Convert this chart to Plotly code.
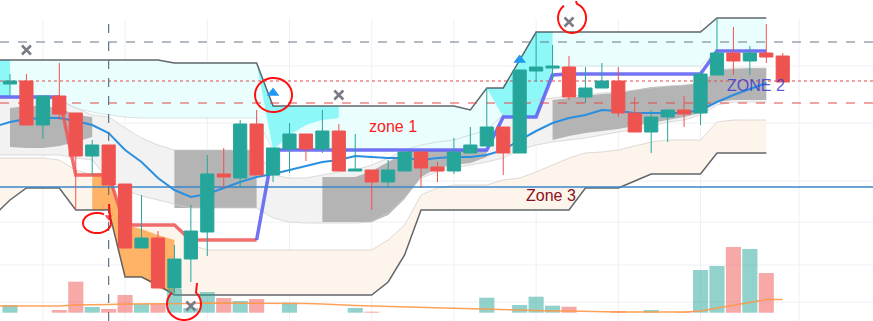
import plotly.graph_objects as go
import math

# ---------------- data (price units) ----------------
candle_idx = list(range(48))
opens  = [237,240,196,225,208,165,176,137,73,83,33,62,89,147,143,197,146,172,187,172,190,150,151,139,150,169,154,150,168,175,194,168,250,253,254,224,233,240,208,189,204,211,208,246,268,260,268,265]
highs  = [247,247,225,258,208,181,176,137,126,90,76,116,166,173,201,211,173,198,187,211,197,187,151,161,169,169,159,183,194,233,194,251,289,276,265,254,258,254,224,211,211,225,250,303,294,275,297,268]
lows   = [224,196,182,201,111,146,136,73,73,33,28,39,65,133,133,146,139,148,160,168,150,150,111,133,150,133,139,147,168,175,146,168,239,241,221,218,233,204,189,168,179,194,196,246,246,246,258,239]
closes = [240,196,225,207,165,176,136,73,83,33,62,90,147,144,197,146,173,187,172,190,150,152,139,151,169,153,150,169,176,194,168,251,254,255,224,233,240,208,189,204,211,207,247,268,260,268,264,239]
volume = [77,0,0,27,310,57,37,177,87,87,237,47,207,147,117,137,0,100,0,0,0,47,10,0,0,0,0,0,0,150,0,77,160,70,60,0,0,17,0,27,0,10,427,467,657,637,397,0]
volume_ma = [67,67,67,67,77,77,82,87,87,87,92,92,97,97,97,97,97,92,92,87,77,72,67,62,57,52,47,42,37,32,27,27,22,17,17,12,7,7,7,7,7,7,17,47,77,107,132,132]

band_idx = list(range(-1, 47))
N = None
upper_line = [261]*11 + [258]*6 + [215]*12 + [211, 233, 233, 261] + [289]*11 + [303]*4
cyan_low   = [224]*4 + [221, 213, 209, 206, 204] + [203]*8 + [171]*13 + [171] + [204]*3 + [251] + [255]*9 + [270]*4
sat_up  = [261, 261] + [N]*14 + [258] + [215]*5 + [N]*8 + [233, 233, 261, 289, 289] + [N]*13
sat_low = [224, 224] + [N]*14 + [258, 171, 186, 196, 201, 203] + [N]*8 + [233, 204, 204, 204, 246] + [N]*13
gray_up  = [223]*4 + [221, 213, 206, 204, 193, 183, 176] + [171]*6 + [146, 143, 143, 146, 149, 151, 156, 163, 171, 176, 179, 181, 186, 191, 206, 216, 221, 223, 225, 226, 228, 229, 231, 233, 235, 236, 238, 251] + [253]*3
gray_low = [166]*4 + [166, 163, 161, 141, 131, 125, 121, 117] + [113]*5 + [103, 99] + [98]*4 + [99, 108, 123, 143, 149, 153, 156, 159, 163, 171, 176, 179, 181, 183, 186, 189, 191, 195, 199, 201, 206, 216] + [219]*3
dark_up  = [N, 213, 215, 215, 213, 206, 204] + [N]*4 + [171]*6 + [N]*3 + [144, 144, 144, 150, 159, 168, 176, 176, 176, 181, 188] + [N]*3 + [221, 223, 225, 227, 228, 231, 234, 235, 236, 238, 251, 252, 253, 253]
dark_low = [N, 174, 173, 173, 175, 179, 184] + [N]*4 + [113]*6 + [N]*3 + [99, 99, 99, 99, 106, 122, 144, 153, 156, 158, 164] + [N]*3 + [181, 185, 188, 190, 192, 195, 198, 201, 204, 208, 219, 221, 221, 221]
peach_up  = [163]*4 + [161, 151, 146, 146] + [96]*4 + [76] + [71]*11 + [81, 96, 126, 133] + [136]*3 + [141, 143, 149, 156, 163, 168, 169, 171, 175, 179] + [181]*3 + [199] + [201]*3
lower_line = [105, 121] + [133]*3 + [111]*3 + [44, 44, 36] + [26]*13 + [39, 66] + [111]*10 + [133]*3 + [140] + [147]*4 + [168]*4
orange_up  = [N]*6 + [148, 148, 96, 92, 86, 81] + [N]*36
orange_low = [N]*6 + [111, 111, 44, 44, 33, 28] + [N]*36
stop_bull = [224]*5 + [N]*11 + [81] + [171]*14 + [204]*3 + [246] + [247]*9 + [270]*4
stop_bear = [N]*4 + [224] + [146]*3 + [96]*4 + [81]*5 + [N]*31
ma_line = [194, 199, 202, 203, 203, 200, 196, 188, 171, 159, 143, 131, 124, 127, 133, 139, 144, 147, 151, 155, 159, 161, 165, 164, 163, 163, 161, 163, 164, 164, 166, 171, 181, 190, 198, 203, 206, 211, 210, 208, 208, 208, 208, 211, 219, 226, 232, 238]

level_gray_dash = 279
level_red_dot = 240
level_red_dash = 218
level_blue = 134
marked_bar = 6

cross_idx, cross_price = [1, 20, 34, 11], [271, 226, 299, 15]
tri_idx, tri_price = [16, 31], [228, 261]
down_idx, down_price = [6], [104]

grid_x = [2, 7, 12, 17, 22, 27, 32, 37, 42, 48]
grid_y = [255, 198, 140, 99, 56, 19]

TEAL = "#26a69a"
RED = "#ef5350"

fig = go.Figure()

def segs(xs, up, lo):
    out, cur = [], []
    for x, u, l in zip(xs, up, lo):
        if u is None or l is None:
            if cur:
                out.append(cur)
                cur = []
        else:
            cur.append((x, u, l))
    if cur:
        out.append(cur)
    return out

def band(up, lo, color):
    for s in segs(band_idx, up, lo):
        sx = [p[0] for p in s]
        su = [p[1] for p in s]
        sl = [p[2] for p in s]
        fig.add_trace(go.Scatter(x=sx + sx[::-1], y=su + sl[::-1], fill="toself",
                                 fillcolor=color, mode="lines", line=dict(width=0),
                                 hoverinfo="skip", showlegend=False))

def line(y, color, width, dash=None, x=None):
    fig.add_trace(go.Scatter(x=x if x is not None else band_idx, y=y, mode="lines",
                             line=dict(color=color, width=width, dash=dash),
                             connectgaps=False, hoverinfo="skip", showlegend=False))

band(peach_up, lower_line, "#fdf5ec")
band(gray_up, gray_low, "#f2f2f2")
band(dark_up, dark_low, "#b4b4b4")
band(upper_line, cyan_low, "#eafefe")
band(sat_up, sat_low, "#8ef8f8")
band(orange_up, orange_low, "#ffb366")

line(peach_up, "rgba(200,195,190,0.6)", 1)
line(gray_up, "rgba(205,205,205,0.7)", 1)
line(gray_low, "rgba(205,205,205,0.7)", 1)
line(cyan_low, "rgba(200,215,215,0.7)", 1)
line(upper_line, "rgba(70,75,80,0.85)", 1.5)
line(lower_line, "rgba(70,75,80,0.85)", 1.5)
line(ma_line, "#2b8fe0", 2)
line(stop_bear, "rgba(240,85,85,0.85)", 3.5)
line(stop_bull, "rgba(90,90,245,0.85)", 3.5)

xr = [-0.608, 52.49]
line([level_gray_dash]*2, "#66788a", 1.2, "dash", xr)
line([level_red_dot]*2, "#e04848", 1.2, "dot", xr)
line([level_red_dash]*2, "#e04848", 1.2, "dash", xr)
line([level_blue]*2, "#3a86c8", 1.5, None, xr)
fig.add_trace(go.Scatter(x=[marked_bar, marked_bar], y=[0, 302], mode="lines",
                         line=dict(color="#5f7383", width=1.2, dash="dash"),
                         hoverinfo="skip", showlegend=False))

# volume pane (overlay y2)
vcol = ["rgba(38,166,154,0.5)" if c >= o else "rgba(239,83,80,0.5)" for o, c in zip(opens, closes)]
fig.add_trace(go.Bar(x=candle_idx, y=volume, marker=dict(color=vcol, line=dict(width=0)),
                     width=0.92, yaxis="y2", showlegend=False, hoverinfo="skip"))
fig.add_trace(go.Scatter(x=[-1] + candle_idx, y=[67] + volume_ma, mode="lines",
                         line=dict(color="rgba(255,152,70,0.9)", width=1.5), yaxis="y2",
                         showlegend=False, hoverinfo="skip"))

# candles and signals on overlay y3 (drawn above bands)
fig.add_trace(go.Candlestick(x=candle_idx, open=opens, high=highs, low=lows, close=closes,
                             increasing=dict(line=dict(color=TEAL, width=1), fillcolor=TEAL),
                             decreasing=dict(line=dict(color=RED, width=1), fillcolor=RED),
                             whiskerwidth=0, showlegend=False, hoverinfo="skip", yaxis="y3"))
fig.add_trace(go.Scatter(x=cross_idx, y=cross_price, mode="markers", yaxis="y3",
                         marker=dict(symbol="x-thin", size=9, line=dict(color="#787b86", width=2.5)),
                         showlegend=False, hoverinfo="skip"))
fig.add_trace(go.Scatter(x=tri_idx, y=tri_price, mode="markers", yaxis="y3",
                         marker=dict(symbol="triangle-up", size=11, color="#2196f3"),
                         showlegend=False, hoverinfo="skip"))
fig.add_trace(go.Scatter(x=down_idx, y=down_price, mode="markers", yaxis="y3",
                         marker=dict(symbol="triangle-down", size=7, color="#ef5350"),
                         showlegend=False, hoverinfo="skip"))

# hand-drawn red loops (overlay drawings)
def X(px):
    return (px - 10) / 16.44
def Y(py):
    return 321 - py
def loop(cx, cy, rx, ry, a0, a1, pre=None, n=60):
    pts = []
    if pre:
        pts.append(pre)
    for k in range(n + 1):
        t = math.radians(a0 + (a1 - a0) * k / n)
        pts.append((cx + rx * math.cos(t), cy + ry * math.sin(t)))
    d = "M " + " L ".join(f"{X(p[0]):.4f},{Y(p[1]):.3f}" for p in pts)
    return dict(type="path", path=d, xref="x", yref="y",
                line=dict(color="#ff1010", width=2), layer="above")

shapes = [
    loop(273.5, 95, 18.5, 17, -120, 255),
    loop(572, 18, 14, 15, -70, 235, pre=(576, 1)),
    loop(97, 223, 14, 10, -20, 300, pre=(109, 204)),
    loop(184, 304, 17, 16, -45, 225, pre=(197, 283)),
]
for gx in grid_x:
    shapes.append(dict(type="line", x0=gx, x1=gx, y0=0, y1=302, xref="x", yref="y",
                       line=dict(color="#eef0f5", width=1), layer="below"))
for gy in grid_y:
    shapes.append(dict(type="line", x0=xr[0], x1=xr[1], y0=gy, y1=gy, xref="x", yref="y",
                       line=dict(color="#eef0f5", width=1), layer="below"))

annotations = [
    dict(x=23.3, y=195, text="zone 1", showarrow=False, font=dict(family="Liberation Sans, Arial", size=16, color="#ff2020")),
    dict(x=45.4, y=236, text="ZONE 2", showarrow=False, font=dict(family="Liberation Sans, Arial", size=16, color="rgba(60,60,210,0.85)")),
    dict(x=32.9, y=126, text="Zone 3", showarrow=False, font=dict(family="Liberation Sans, Arial", size=16, color="#8b1020")),
]

fig.update_layout(
    width=873, height=321, margin=dict(l=0, r=0, t=0, b=0),
    paper_bgcolor="white", plot_bgcolor="white", showlegend=False,
    boxgap=0.2, boxgroupgap=0,
    xaxis=dict(range=xr, visible=False, rangeslider=dict(visible=False), fixedrange=True),
    yaxis=dict(range=[0, 321], visible=False),
    yaxis2=dict(range=[-83, 3127], overlaying="y", visible=False),
    yaxis3=dict(range=[0, 321], overlaying="y", visible=False),
    shapes=shapes, annotations=annotations,
)
fig.write_html("out.html")
